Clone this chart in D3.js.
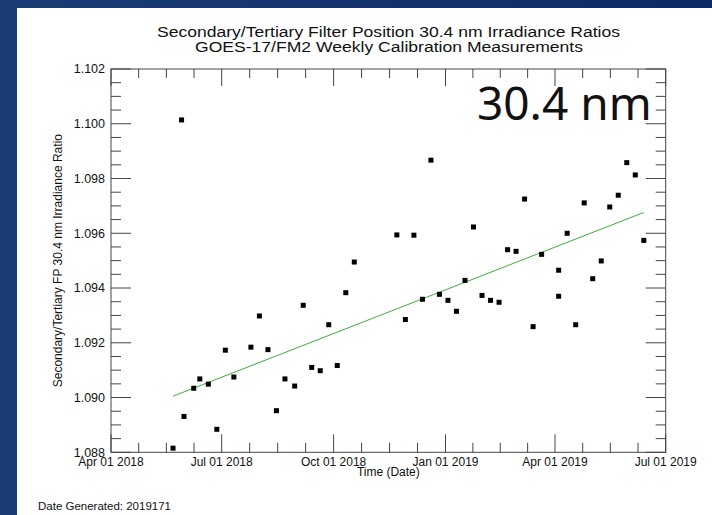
<!DOCTYPE html>
<meta charset="utf-8">
<style>
body { margin: 0; }
text { font-family: "Liberation Sans", Arial, sans-serif; fill: #111; }
.axis path, .axis line { stroke: #444; }
</style>
<body>
<script src="https://d3js.org/d3.v7.min.js"></script>
<script>
var dates = ["2018-05-22","2018-05-29","2018-05-31","2018-06-08","2018-06-13","2018-06-20",
  "2018-06-27","2018-07-04","2018-07-11","2018-07-25","2018-08-01","2018-08-08","2018-08-15",
  "2018-08-22","2018-08-30","2018-09-06","2018-09-13","2018-09-20","2018-09-27","2018-10-04",
  "2018-10-11","2018-10-18","2018-11-22","2018-11-29","2018-12-06","2018-12-13","2018-12-20",
  "2018-12-27","2019-01-03","2019-01-10","2019-01-17","2019-01-24","2019-01-31","2019-02-07",
  "2019-02-14","2019-02-21","2019-02-28","2019-03-07","2019-03-14","2019-03-21","2019-04-04",
  "2019-04-04","2019-04-11","2019-04-18","2019-04-25","2019-05-02","2019-05-09","2019-05-16",
  "2019-05-23","2019-05-30","2019-06-06","2019-06-13"];
var ratios = [1.08815,1.10014,1.08931,1.09034,1.09068,1.09049,
  1.08884,1.09173,1.09075,1.09184,1.09298,1.09175,1.08952,
  1.09068,1.09042,1.09337,1.09110,1.09098,1.09266,1.09117,
  1.09383,1.09495,1.09594,1.09285,1.09593,1.09359,1.09867,
  1.09377,1.09355,1.09315,1.09428,1.09623,1.09373,1.09355,
  1.09348,1.09540,1.09534,1.09725,1.09259,1.09523,1.09465,
  1.09370,1.09600,1.09266,1.09711,1.09434,1.09499,1.09696,
  1.09739,1.09858,1.09813,1.09574];

// linear fit end points
var fitDates = ["2018-05-22","2019-06-13"];
var fitValues = [1.09005,1.09676];

var xDomain = ["2018-04-01","2019-07-01"];
var yDomain = [1.088, 1.102];

var parse = d3.timeParse("%Y-%m-%d");
var data = dates.map(function(d, i) { return {date: parse(d), value: ratios[i]}; });
var fit = fitDates.map(function(d, i) { return {date: parse(d), value: fitValues[i]}; });

var width = 712, height = 515;
var margin = {top: 69, right: 46.3, bottom: 62.7, left: 111};

var svg = d3.select("body").append("svg")
    .attr("width", width)
    .attr("height", height);

// slide background
var grad = svg.append("defs").append("linearGradient")
    .attr("id", "bg").attr("x1", "0").attr("x2", "1").attr("y1", "0").attr("y2", "0");
grad.append("stop").attr("offset", "0").attr("stop-color", "#1a3d76");
grad.append("stop").attr("offset", "1").attr("stop-color", "#0e2a66");
svg.append("rect").attr("width", width).attr("height", height).attr("fill", "url(#bg)");
svg.append("rect").attr("x", 17).attr("y", 8).attr("width", width - 17).attr("height", height - 8)
    .attr("fill", "#fff");

var x = d3.scaleTime()
    .domain(xDomain.map(parse))
    .range([margin.left, width - margin.right]);

var y = d3.scaleLinear()
    .domain(yDomain)
    .range([height - margin.bottom, margin.top]);

var x0 = x.range()[0], x1 = x.range()[1], y0 = y.range()[0], y1 = y.range()[1];

// ticks
var xMajor = d3.timeMonth.every(3).range(x.domain()[0], d3.timeDay.offset(x.domain()[1], 1));
var xMinor = [];
for (var i = 0; i < xMajor.length - 1; i++) {
  for (var k = 1; k < 4; k++) {
    xMinor.push(new Date(+xMajor[i] + (xMajor[i + 1] - xMajor[i]) * k / 4));
  }
}
var yMajor = d3.range(0, 8).map(function(i) { return +(yDomain[0] + i * 0.002).toFixed(3); });
var yMinor = d3.range(0, 29).map(function(i) { return yDomain[0] + i * 0.0005; })
    .filter(function(v, i) { return i % 4 != 0; });

var ax = svg.append("g").attr("class", "axis");
ax.append("rect")
    .attr("x", x0).attr("y", y1).attr("width", x1 - x0).attr("height", y0 - y1)
    .attr("fill", "none").attr("stroke", "#444");

function tick(x1_, y1_, x2_, y2_) {
  ax.append("line").attr("x1", x1_).attr("y1", y1_).attr("x2", x2_).attr("y2", y2_);
}
xMajor.forEach(function(d) {
  tick(x(d), y0, x(d), y0 - 18);
  tick(x(d), y1, x(d), y1 + 17);
});
xMinor.forEach(function(d) {
  tick(x(d), y0, x(d), y0 - 9.5);
  tick(x(d), y1, x(d), y1 + 9);
});
yMajor.forEach(function(v) {
  tick(x0, y(v), x0 + 20, y(v));
  tick(x1, y(v), x1 - 20, y(v));
});
yMinor.forEach(function(v) {
  tick(x0, y(v), x0 + 10, y(v));
  tick(x1, y(v), x1 - 10, y(v));
});

var fmtX = d3.timeFormat("%b %d %Y");
svg.selectAll(".xl").data(xMajor).enter().append("text")
    .attr("x", function(d) { return x(d); })
    .attr("y", y0 + 14)
    .attr("text-anchor", "middle")
    .style("font-size", "12px")
    .text(fmtX);

svg.selectAll(".yl").data(yMajor).enter().append("text")
    .attr("x", x0 - 6)
    .attr("y", function(v) { return y(v); })
    .attr("dy", "0.35em")
    .attr("text-anchor", "end")
    .style("font-size", "12.5px")
    .text(d3.format(".3f"));

// fit line
svg.append("path")
    .datum(fit)
    .attr("fill", "none")
    .attr("stroke", "#3fae3f")
    .attr("stroke-width", 1)
    .attr("d", d3.line().x(function(d) { return x(d.date); }).y(function(d) { return y(d.value); }));

// points
svg.selectAll(".pt").data(data).enter().append("rect")
    .attr("x", function(d) { return x(d.date) - 2.5; })
    .attr("y", function(d) { return y(d.value) - 2.5; })
    .attr("width", 5).attr("height", 5)
    .attr("fill", "#000");

// titles (stretched wide like the source image)
svg.append("text").attr("x", 388.5).attr("y", 37).attr("text-anchor", "middle")
    .style("font-size", "14px")
    .attr("textLength", 463).attr("lengthAdjust", "spacingAndGlyphs")
    .text("Secondary/Tertiary Filter Position 30.4 nm Irradiance Ratios");
svg.append("text").attr("x", 389).attr("y", 52).attr("text-anchor", "middle")
    .style("font-size", "14px")
    .attr("textLength", 388).attr("lengthAdjust", "spacingAndGlyphs")
    .text("GOES-17/FM2 Weekly Calibration Measurements");

svg.append("text").attr("x", (x0 + x1) / 2).attr("y", 476).attr("text-anchor", "middle")
    .style("font-size", "12px")
    .text("Time (Date)");

svg.append("text")
    .attr("transform", "translate(62," + ((y0 + y1) / 2) + ") rotate(-90)")
    .attr("text-anchor", "middle")
    .style("font-size", "12px")
    .text("Secondary/Tertiary FP 30.4 nm Irradiance Ratio");

svg.append("text").attr("x", 38).attr("y", 510)
    .style("font-size", "11.5px")
    .text("Date Generated: 2019171");

svg.append("text").attr("x", 477).attr("y", 120)
    .style("font-family", "'Noto Sans', sans-serif")
    .style("font-size", "46px")
    .text("30.4 nm");
</script>
